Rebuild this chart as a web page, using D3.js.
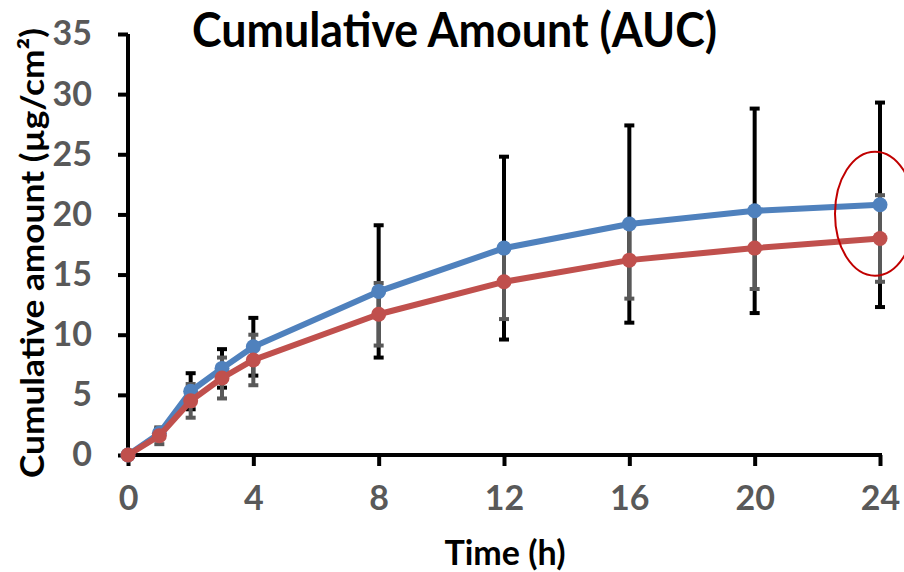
<!DOCTYPE html>
<html>
<head>
<meta charset="utf-8">
<script src="https://cdn.jsdelivr.net/npm/d3@7"></script>
<style>
  body { margin: 0; background: #fff; }
  svg { font-family: Lato, "Open Sans", sans-serif; font-weight: bold; }
</style>
</head>
<body>
<svg id="chart"></svg>
<script>
// Chart data
const times = [0, 1, 2, 3, 4, 8, 12, 16, 20, 24];
const blueValues = [0, 1.8, 5.3, 7.2, 9.0, 13.6, 17.2, 19.2, 20.3, 20.8];
const blueErrors = [0, 0.4, 1.5, 1.6, 2.4, 5.5, 7.6, 8.2, 8.5, 8.5];
const redValues = [0, 1.6, 4.5, 6.4, 7.9, 11.7, 14.4, 16.2, 17.2, 18.0];
const redErrors = [0, 0.7, 1.4, 1.7, 2.1, 2.6, 3.1, 3.2, 3.4, 3.6];
const xTicks = [0, 4, 8, 12, 16, 20, 24];
const yTicks = [0, 5, 10, 15, 20, 25, 30, 35];

// Dimensions
let width = 904, height = 572;
let margin = { top: 34, bottom: 117, left: 128, right: 24 };

let svg = d3.select('#chart')
    .attr('width', width)
    .attr('height', height);

let xScale = d3.scaleLinear()
    .domain([0, 24])
    .range([margin.left, width - margin.right]);

let yScale = d3.scaleLinear()
    .domain([0, 35])
    .range([height - margin.bottom, margin.top]);

// Axes
let yAxis = svg.append('g')
    .attr('transform', `translate(${margin.left}, 0)`)
    .call(d3.axisLeft(yScale).tickValues(yTicks).tickSize(10).tickSizeOuter(0).tickPadding(26));

let xAxis = svg.append('g')
    .attr('transform', `translate(0, ${height - margin.bottom})`)
    .call(d3.axisBottom(xScale).tickValues(xTicks).tickSize(11).tickSizeOuter(0).tickPadding(20));

[xAxis, yAxis].forEach(function(ax) {
    ax.attr('font-family', null).attr('font-size', null);
    ax.select('.domain').attr('stroke', '#000').attr('stroke-width', 4);
    ax.selectAll('.tick line').attr('stroke', '#000').attr('stroke-width', 4);
    ax.selectAll('.tick text')
        .attr('fill', '#595959')
        .style('font-family', 'Lato, sans-serif')
        .style('font-size', '34px')
        .style('font-weight', 'bold');
});
// stretch domain lines a bit past the ends so corners look square
yAxis.select('.domain').attr('d', `M0,${yScale(35)}V${yScale(0) + 2}`);
xAxis.select('.domain').attr('d', `M-2,0H${xScale(24) - margin.left + 2}`);
xAxis.select('.domain').attr('transform', `translate(${margin.left},0)`);

// Error bars
function drawErrors(values, errors, color, cls) {
    let g = svg.append('g').attr('class', cls);
    times.forEach(function(t, i) {
        if (errors[i] === 0) return;
        let x = xScale(t);
        let yTop = yScale(values[i] + errors[i]);
        let yBot = yScale(values[i] - errors[i]);
        g.append('line')
            .attr('x1', x).attr('x2', x)
            .attr('y1', yTop).attr('y2', yBot)
            .attr('stroke', color).attr('stroke-width', 4);
        [yTop, yBot].forEach(function(y) {
            g.append('line')
                .attr('x1', x - 5).attr('x2', x + 5)
                .attr('y1', y).attr('y2', y)
                .attr('stroke', color).attr('stroke-width', 4);
        });
    });
}
drawErrors(blueValues, blueErrors, '#000000', 'err-blue');
drawErrors(redValues, redErrors, '#595959', 'err-red');

// Lines and markers
let line = d3.line()
    .x(d => xScale(d[0]))
    .y(d => yScale(d[1]));

function drawSeries(values, color) {
    let pts = times.map((t, i) => [t, values[i]]);
    svg.append('path')
        .datum(pts)
        .attr('d', line)
        .attr('fill', 'none')
        .attr('stroke', color)
        .attr('stroke-width', 6)
        .attr('stroke-linejoin', 'round');
    svg.append('g').selectAll('circle')
        .data(pts)
        .enter()
        .append('circle')
        .attr('cx', d => xScale(d[0]))
        .attr('cy', d => yScale(d[1]))
        .attr('r', 7.5)
        .attr('fill', color);
}
drawSeries(blueValues, '#4f81bd');
drawSeries(redValues, '#c0504d');

// Highlight ellipse round the last points
svg.append('ellipse')
    .attr('cx', xScale(24) - 5)
    .attr('cy', yScale((blueValues[9] + redValues[9]) / 2) - 8)
    .attr('rx', 40)
    .attr('ry', 62)
    .attr('fill', 'none')
    .attr('stroke', '#c00000')
    .attr('stroke-width', 2);

// Title
svg.append('text')
    .attr('x', 192)
    .attr('y', 47)
    .attr('textLength', 525)
    .attr('lengthAdjust', 'spacingAndGlyphs')
    .style('font-size', '48px')
    .attr('fill', '#000')
    .text('Cumulative Amount (AUC)');

// X-axis label
svg.append('text')
    .attr('x', 505)
    .attr('y', 565)
    .attr('text-anchor', 'middle')
    .style('font-size', '34px')
    .attr('fill', '#000')
    .text('Time (h)');

// Y-axis label
svg.append('text')
    .attr('transform', 'rotate(-90)')
    .attr('x', -478)
    .attr('y', 44)
    .attr('textLength', 450)
    .attr('lengthAdjust', 'spacingAndGlyphs')
    .style('font-size', '33px')
    .attr('fill', '#000')
    .text('Cumulative amount (µg/cm²)');
</script>
</body>
</html>
